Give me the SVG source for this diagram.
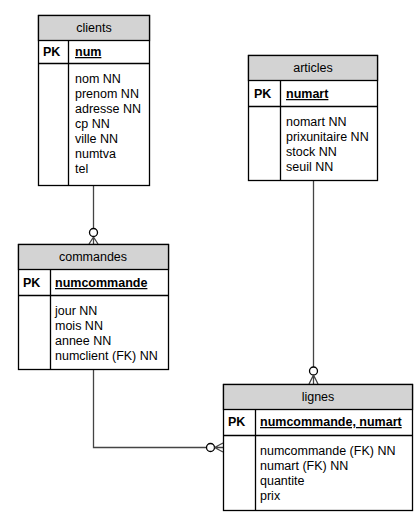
<svg xmlns="http://www.w3.org/2000/svg" width="418" height="529" viewBox="0 0 418 529">
<style>
.box{fill:#fff;stroke:#000;stroke-width:1.3}
.hdr{fill:#d3d3d3;stroke:#000;stroke-width:1.3}
.sep{stroke:#000;stroke-width:1.3;fill:none}
.t{font-family:"Liberation Sans",Arial,sans-serif;font-size:12.5px;fill:#000}
.c{text-anchor:middle}
.b{font-weight:bold}
.u{font-weight:bold;text-decoration:underline}
.con{stroke:#444;stroke-width:1.3;fill:none}
.circ{stroke:#000;stroke-width:1.3;fill:#fff}
</style>
<rect width="418" height="529" fill="#fff"/>
<g id="connectors">
<path class="con" d="M93.5 185 V228.5"/>
<circle class="circ" cx="93.5" cy="232.5" r="4"/>
<path class="con" d="M93.5 237 L89 244 M93.5 237 V244 M93.5 237 L98 244"/>
<path class="con" d="M313.5 180 V367"/>
<circle class="circ" cx="313.5" cy="371" r="4"/>
<path class="con" d="M313.5 375 L309 384 M313.5 375 V384 M313.5 375 L318 384"/>
<path class="con" d="M93.5 370 V447.5 H206.5"/>
<circle class="circ" cx="210.5" cy="447.5" r="4"/>
<path class="con" d="M214.5 447.5 L223 443 M214.5 447.5 H223 M214.5 447.5 L223 452"/>
</g>
<g id="clients">
<rect class="box" x="38.5" y="15.5" width="111" height="170"/>
<rect class="hdr" x="38.5" y="15.5" width="111" height="25"/>
<path class="sep" d="M38.5 63.5 H149.5 M68.5 40.5 V185.5"/>
<text class="t c" x="94" y="32">clients</text>
<text class="t b" x="43" y="56">PK</text>
<text class="t u" x="75" y="56">num</text>
<text class="t" x="75" y="83">nom NN</text>
<text class="t" x="75" y="98">prenom NN</text>
<text class="t" x="75" y="113">adresse NN</text>
<text class="t" x="75" y="128">cp NN</text>
<text class="t" x="75" y="143">ville NN</text>
<text class="t" x="75" y="158">numtva</text>
<text class="t" x="75" y="173">tel</text>
</g>
<g id="articles">
<rect class="box" x="248.5" y="55.5" width="129" height="125"/>
<rect class="hdr" x="248.5" y="55.5" width="129" height="25"/>
<path class="sep" d="M248.5 106.5 H377.5 M280.5 80.5 V180.5"/>
<text class="t c" x="313" y="72">articles</text>
<text class="t b" x="254" y="98">PK</text>
<text class="t u" x="286" y="98">numart</text>
<text class="t" x="286" y="126">nomart NN</text>
<text class="t" x="286" y="141">prixunitaire NN</text>
<text class="t" x="286" y="156">stock NN</text>
<text class="t" x="286" y="171">seuil NN</text>
</g>
<g id="commandes">
<rect class="box" x="18.5" y="244.5" width="150" height="125"/>
<rect class="hdr" x="18.5" y="244.5" width="150" height="25"/>
<path class="sep" d="M18.5 295.5 H168.5 M50.5 269.5 V369.5"/>
<text class="t c" x="93" y="261">commandes</text>
<text class="t b" x="23" y="287">PK</text>
<text class="t u" x="55" y="287">numcommande</text>
<text class="t" x="55" y="315">jour NN</text>
<text class="t" x="55" y="330">mois NN</text>
<text class="t" x="55" y="345">annee NN</text>
<text class="t" x="55" y="360">numclient (FK) NN</text>
</g>
<g id="lignes">
<rect class="box" x="223.5" y="384.5" width="189" height="126"/>
<rect class="hdr" x="223.5" y="384.5" width="189" height="25"/>
<path class="sep" d="M223.5 435.5 H412.5"/>
<path class="sep" d="M255.5 409.5 V510.5" stroke="#555"/>
<text class="t c" x="318" y="401">lignes</text>
<text class="t b" x="228" y="426">PK</text>
<text class="t u" x="260" y="426">numcommande, numart</text>
<text class="t" x="260" y="455">numcommande (FK) NN</text>
<text class="t" x="260" y="470">numart (FK) NN</text>
<text class="t" x="260" y="485">quantite</text>
<text class="t" x="260" y="500">prix</text>
</g>
</svg>
